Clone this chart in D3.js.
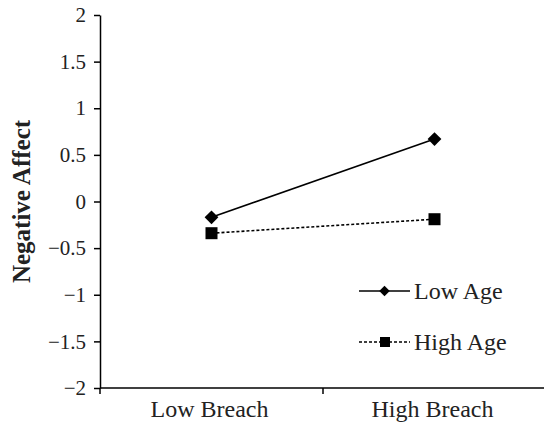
<!DOCTYPE html>
<html>
<head>
<meta charset="utf-8">
<script src="https://cdn.jsdelivr.net/npm/d3@7"></script>
<style>
	body { margin: 0; background: #fff; }
	svg { display: block; font-family: "Liberation Serif", "Times New Roman", serif; }
	.axis path, .axis line { stroke: #000; stroke-width: 1.5; }
	.axis text { fill: #222; }
</style>
</head>
<body>
<div id="chart"></div>
<script>
const w = 544;
const h = 424;

// data
const categories = ["Low Breach", "High Breach"];
const lowAge = [-0.17, 0.67];
const highAge = [-0.34, -0.19];
const seriesNames = ["Low Age", "High Age"];
const yTicks = [-2, -1.5, -1, -0.5, 0, 0.5, 1, 1.5, 2];

let svg = d3.select('#chart')
	.append('svg')
		.attr('width', w)
		.attr('height', h);

let xScale = d3.scaleBand()
	.domain(categories)
	.range([100, 546]);

let yScale = d3.scaleLinear()
	.domain([-2, 2])
	.range([388, 15]);

const fmt = (d) => (d < 0 ? "\u2212" : "") + Math.abs(d);

// y axis
let yAxis = svg.append("g")
	.attr("class", "axis")
	.attr("transform", "translate(100,0)")
	.call(d3.axisLeft(yScale).tickValues(yTicks).tickFormat(fmt).tickSize(6).tickPadding(8).tickSizeOuter(0))
	.attr("font-family", null)
	.attr("font-size", null);
yAxis.selectAll("text").style("font-size", "21px");

// x axis, ticks on band edges
let xAxis = svg.append("g")
	.attr("class", "axis")
	.attr("transform", "translate(0,388)");
xAxis.append("line")
	.attr("x1", 100).attr("x2", 546)
	.attr("y1", 0).attr("y2", 0);
xAxis.selectAll("line.tk")
	.data([categories[0], categories[1]])
	.enter()
	.append("line")
	.attr("class", "tk")
	.attr("x1", (d) => xScale(d))
	.attr("x2", (d) => xScale(d))
	.attr("y1", 0).attr("y2", 6);
xAxis.selectAll("text")
	.data(categories)
	.enter()
	.append("text")
	.attr("x", (d) => xScale(d) + xScale.bandwidth() / 2 - 2)
	.attr("y", 29)
	.attr("text-anchor", "middle")
	.style("font-size", "24px")
	.text((d) => d);

// y title
svg.append("text")
	.attr("transform", "translate(30," + yScale(0) + ") rotate(-90)")
	.attr("text-anchor", "middle")
	.style("font-size", "25px")
	.style("font-weight", "bold")
	.attr("fill", "#222")
	.text("Negative Affect");

const cx = (i) => xScale(categories[i]) + xScale.bandwidth() / 2;
const line = d3.line()
	.x((d, i) => cx(i))
	.y((d) => yScale(d));

// Low Age
svg.append("path")
	.datum(lowAge)
	.attr("d", line)
	.attr("fill", "none")
	.attr("stroke", "#000")
	.attr("stroke-width", 1.6);
svg.selectAll("path.dia")
	.data(lowAge)
	.enter()
	.append("path")
	.attr("class", "dia")
	.attr("d", d3.symbol().type(d3.symbolSquare).size(95))
	.attr("transform", (d, i) => "translate(" + cx(i) + "," + yScale(d) + ") rotate(45)")
	.attr("fill", "#000");

// High Age
svg.append("path")
	.datum(highAge)
	.attr("d", line)
	.attr("fill", "none")
	.attr("stroke", "#000")
	.attr("stroke-width", 1.6)
	.attr("stroke-dasharray", "3,2");
svg.selectAll("rect.sq")
	.data(highAge)
	.enter()
	.append("rect")
	.attr("class", "sq")
	.attr("x", (d, i) => cx(i) - 6)
	.attr("y", (d) => yScale(d) - 6)
	.attr("width", 12)
	.attr("height", 12)
	.attr("fill", "#000");

// legend
let legend = svg.append("g").attr("transform", "translate(359,291)");
seriesNames.forEach((name, i) => {
	let g = legend.append("g").attr("transform", "translate(0," + (i * 51) + ")");
	g.append("line")
		.attr("x1", 0).attr("x2", 51)
		.attr("stroke", "#000")
		.attr("stroke-width", 1.6)
		.attr("stroke-dasharray", i === 0 ? null : "3,2");
	if (i === 0) {
		g.append("path")
			.attr("d", d3.symbol().type(d3.symbolSquare).size(55))
			.attr("transform", "translate(25.5,0) rotate(45)");
	} else {
		g.append("rect")
			.attr("x", 21).attr("y", -5)
			.attr("width", 10).attr("height", 10);
	}
	g.append("text")
		.attr("x", 55)
		.attr("y", 8)
		.style("font-size", "24px")
		.attr("fill", "#222")
		.text(name);
});
</script>
</body>
</html>
